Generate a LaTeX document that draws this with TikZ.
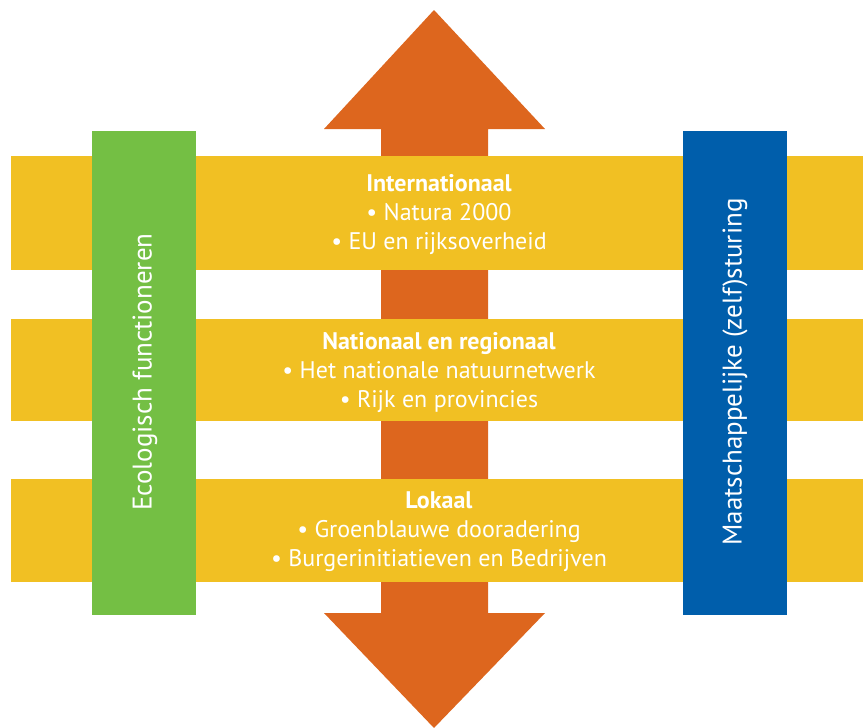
\documentclass[tikz,border=0pt]{standalone}
\usepackage{fontspec}
\setmainfont{PT Sans}
\usepackage{tikz}
\usetikzlibrary{positioning}

\definecolor{pijl}{HTML}{DD661E}
\definecolor{band}{HTML}{F1C023}
\definecolor{groen}{HTML}{74BF44}
\definecolor{blauw}{HTML}{005EAB}

\begin{document}
\begin{tikzpicture}[x=1pt, y=-1pt,
    niveau/.style = {text=white, align=center, font=\fontsize{24}{29}\selectfont},
    zijbalk/.style = {text=white, rotate=90, font=\fontsize{27}{30}\selectfont}]
      \useasboundingbox (0,0) rectangle (863,728);

      \fill[pijl] (434,10) -- (545,129) -- (488,129) -- (488,613) -- (545,613)
          -- (434,728) -- (324,613) -- (381,613) -- (381,129) -- (324,129) -- cycle;

      \fill[band] (11,156) rectangle (863,270);
      \fill[band] (11,319) rectangle (863,421);
      \fill[band] (11,479) rectangle (863,582);

      \fill[groen] (92,131) rectangle (196,615);
      \fill[blauw] (683,131) rectangle (787,615);

      \node[niveau] (inter) at (439,215) {\textbf{Internationaal}\\ \textbullet\ Natura 2000\\ \textbullet\ EU en rijksoverheid};
      \node[niveau] (nat) at (439,373) {\textbf{Nationaal en regionaal}\\ \textbullet\ Het nationale natuurnetwerk\\ \textbullet\ Rijk en provincies};
      \node[niveau] (lok) at (439,532) {\textbf{Lokaal}\\ \textbullet\ Groenblauwe dooradering\\ \textbullet\ Burgerinitiatieven en Bedrijven};

      \node[zijbalk] (eco) at (145,372) {Ecologisch functioneren};
      \node[zijbalk] (maat) at (735,372) {Maatschappelijke (zelf)sturing};
\end{tikzpicture}
\end{document}
